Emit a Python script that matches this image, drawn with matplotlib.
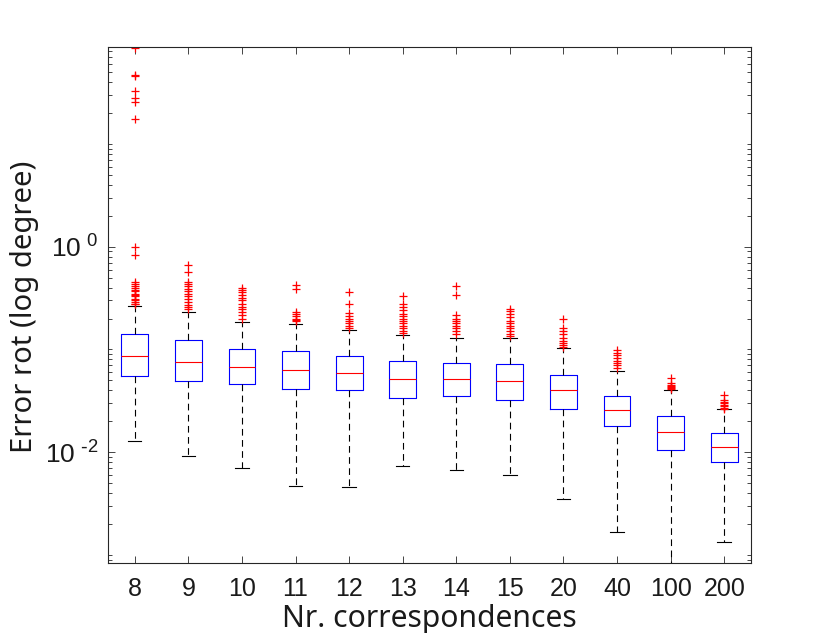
import matplotlib
matplotlib.use("Agg")
import matplotlib.pyplot as plt
from matplotlib.ticker import LogLocator, FixedLocator, NullFormatter

# number of correspondences (x categories)
labels = ["8", "9", "10", "11", "12", "13", "14", "15", "20", "40", "100", "200"]

# box stats (degrees)
whislo = [0.0129, 0.0092, 0.00703, 0.0047, 0.00456, 0.0074, 0.00668, 0.00605, 0.00353, 0.00168, 0.0008, 0.001346]
q1 = [0.0554, 0.0498, 0.0460, 0.0411, 0.0402, 0.0336, 0.0354, 0.0323, 0.0266, 0.0180, 0.0106, 0.00799]
med = [0.0854, 0.0753, 0.0682, 0.0629, 0.0596, 0.0514, 0.0521, 0.0498, 0.0402, 0.0260, 0.01566, 0.0112]
q3 = [0.142, 0.123, 0.1008, 0.0964, 0.0873, 0.0770, 0.0746, 0.0714, 0.0570, 0.0356, 0.0227, 0.0154]
whishi = [0.264, 0.234, 0.183, 0.178, 0.154, 0.139, 0.129, 0.128, 0.1022, 0.0619, 0.0404, 0.0262]

# outliers
fliers = [
    [86.5, 47.4, 46.4, 33.1, 28.1, 25.7, 17.5, 0.993, 0.836,
     0.45, 0.43, 0.41, 0.40, 0.38, 0.37, 0.35, 0.34, 0.33, 0.31, 0.30, 0.29, 0.28, 0.275],
    [0.668, 0.562, 0.45, 0.43, 0.41, 0.39, 0.37, 0.35, 0.33, 0.31, 0.29, 0.27, 0.26, 0.25],
    [0.40, 0.38, 0.36, 0.34, 0.32, 0.30, 0.28, 0.26, 0.245, 0.23, 0.215, 0.20],
    [0.426, 0.387, 0.23, 0.22, 0.21, 0.20, 0.195, 0.19],
    [0.359, 0.278, 0.225, 0.21, 0.20, 0.19, 0.18, 0.17, 0.16],
    [0.328, 0.28, 0.26, 0.24, 0.22, 0.21, 0.20, 0.19, 0.18, 0.17, 0.16, 0.15, 0.145],
    [0.410, 0.341, 0.215, 0.20, 0.19, 0.18, 0.17, 0.16, 0.15, 0.14],
    [0.25, 0.235, 0.22, 0.205, 0.19, 0.18, 0.17, 0.16, 0.15, 0.14, 0.135],
    [0.198, 0.16, 0.15, 0.14, 0.13, 0.12, 0.115, 0.11, 0.105],
    [0.099, 0.093, 0.088, 0.083, 0.078, 0.074, 0.07, 0.066],
    [0.0526, 0.047, 0.045, 0.044, 0.043, 0.042, 0.041],
    [0.0361, 0.032, 0.031, 0.030, 0.029, 0.028, 0.027, 0.0265],
]

stats = []
for i in range(len(labels)):
    stats.append(dict(whislo=whislo[i], q1=q1[i], med=med[i], q3=q3[i],
                      whishi=whishi[i], fliers=fliers[i], label=labels[i]))

axcol = "#262626"
txtcol = "#1a1a1a"
fig = plt.figure(figsize=(8.3, 6.33), dpi=100)
ax = fig.add_axes([0.1301, 0.1111, 0.7747, 0.8147])

ax.bxp(stats, widths=0.5, capwidths=0.25, showfliers=True,
       boxprops=dict(color="blue", linewidth=0.8),
       medianprops=dict(color="red", linewidth=0.8),
       whiskerprops=dict(color="black", linestyle=(0, (6, 4)), linewidth=0.8),
       capprops=dict(color="black", linewidth=0.8),
       flierprops=dict(marker="+", markeredgecolor="red", markersize=6,
                       markeredgewidth=0.9, linestyle="none"))

ax.set_yscale("log")
ax.set_ylim(8.4e-4, 88)
ax.set_xlim(0.5, 12.5)

ax.yaxis.set_major_locator(FixedLocator([1e-2, 1e0]))
ax.yaxis.set_minor_locator(LogLocator(base=10, subs=range(1, 10), numticks=20))
ax.yaxis.set_minor_formatter(NullFormatter())
ax.set_yticklabels([r"$\mathregular{10^{\ \text{-}2}}$", r"$\mathregular{10^{\ 0}}$"])

ax.tick_params(which="both", direction="in", top=True, right=True,
               colors=axcol, labelcolor=txtcol)
ax.tick_params(which="major", length=5, width=0.6, labelsize=18)
ax.tick_params(which="minor", length=3, width=0.6)
ax.tick_params(axis="x", pad=10)
ax.tick_params(axis="y", pad=7, labelsize=19)
for sp in ax.spines.values():
    sp.set_color(axcol)
    sp.set_linewidth(0.8)
for t in ax.get_xticklabels() + ax.get_yticklabels():
    t.set_fontfamily("Liberation Sans")

# axis labels placed in figure coords
fig.text(0.517, 0.0099, "Nr. correspondences", fontsize=21.7, family="Noto Sans",
         color=txtcol, ha="center", va="baseline")
fig.text(0.038, 1 - 453 / 633, "Error rot (log degree)", fontsize=21, family="Noto Sans",
         color=txtcol, rotation=90, rotation_mode="anchor", ha="left", va="baseline")

fig.savefig("out.png", dpi=100)
